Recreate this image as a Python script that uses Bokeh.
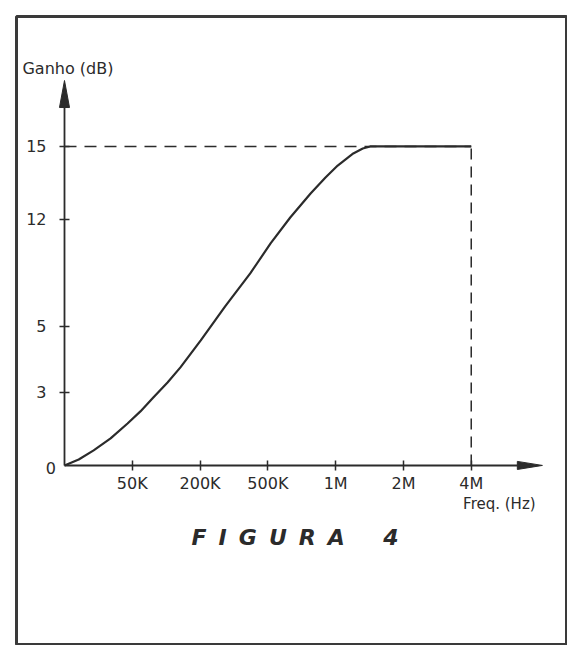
from bokeh.plotting import figure
from bokeh.models import LinearAxis, FixedTicker, Label, Range1d
from bokeh.embed import file_html
from bokeh.resources import INLINE

# Schematic axes: tick positions (drawing units) and their labels
x_tick_pos = [1, 2, 3, 4, 5, 6]
x_tick_labels = ["50K", "200K", "500K", "1M", "2M", "4M"]
y_tick_pos = [3.43, 6.54, 11.57, 15.0]
y_tick_labels = ["3", "5", "12", "15"]

# Gain curve (x in tick units, y in axis units)
curve_x = [0.0, 0.21, 0.43, 0.68, 0.93, 1.12, 1.31, 1.52, 1.71, 2.01, 2.37, 2.74,
           3.04, 3.33, 3.63, 3.85, 4.03, 4.26, 4.40, 4.51, 6.0]
curve_y = [0.0, 0.28, 0.71, 1.27, 1.97, 2.54, 3.20, 3.90, 4.61, 5.88, 7.48, 9.03,
           10.44, 11.66, 12.79, 13.54, 14.10, 14.67, 14.90, 15.0, 15.0]

INK = "#2b2b2b"
FONT = "DejaVu Sans"

p = figure(frame_width=551, frame_height=628,
           min_border_left=16, min_border_right=0, min_border_top=16, min_border_bottom=1,
           x_range=Range1d(-0.708, 7.42), y_range=Range1d(-8.42, 21.11),
           x_axis_type=None, y_axis_type=None,
           output_backend="svg", toolbar_location=None)
p.outline_line_color = "#3a3a3a"
p.outline_line_width = 3
p.background_fill_color = "white"
p.border_fill_color = "white"

x_axis_end = 6.68
y_axis_end = 16.83

xaxis = LinearAxis(fixed_location=0, bounds=(0, x_axis_end),
                   ticker=FixedTicker(ticks=x_tick_pos, minor_ticks=[]),
                   major_label_overrides={k: v for k, v in zip(x_tick_pos, x_tick_labels)})
yaxis = LinearAxis(fixed_location=0, bounds=(0, y_axis_end),
                   ticker=FixedTicker(ticks=y_tick_pos, minor_ticks=[]),
                   major_label_overrides={k: v for k, v in zip(y_tick_pos, y_tick_labels)})
for ax in (xaxis, yaxis):
    ax.axis_line_color = INK
    ax.axis_line_width = 1.8
    ax.major_tick_line_color = INK
    ax.major_tick_line_width = 1.5
    ax.major_tick_in = 5
    ax.major_tick_out = 5
    ax.major_label_text_font = FONT
    ax.major_label_text_font_size = "16px"
    ax.major_label_text_color = INK
xaxis.major_label_standoff = 4
yaxis.major_label_standoff = 13
p.add_layout(xaxis, "below")
p.add_layout(yaxis, "left")

# arrow heads at the axis ends
p.patch([x_axis_end, 7.05, x_axis_end], [0.19, 0.0, -0.19], color=INK)
p.patch([-0.074, 0.0, 0.074], [y_axis_end, 18.1, y_axis_end], color=INK)

# dashed guides to the 15 dB / 4M corner
p.line([0, x_tick_pos[-1]], [y_tick_pos[-1], y_tick_pos[-1]], line_color=INK,
       line_width=1.5, line_dash="12 8")
p.line([x_tick_pos[-1], x_tick_pos[-1]], [0, y_tick_pos[-1]], line_color=INK,
       line_width=1.5, line_dash="11 7")

p.line(curve_x, curve_y, line_color=INK, line_width=2.2, line_join="round")

p.add_layout(Label(x=-0.2, y=-0.1, text="0", text_align="center", text_baseline="middle",
                   text_font=FONT, text_font_size="16px", text_color=INK))
p.add_layout(Label(x=-0.62, y=18.66, text="Ganho (dB)", text_align="left", text_baseline="middle",
                   text_font=FONT, text_font_size="16px", text_color=INK))
p.add_layout(Label(x=5.88, y=-1.79, text="Freq. (Hz)", text_align="left", text_baseline="middle",
                   text_font=FONT, text_font_size="15px", text_color=INK))
NB = "\u00a0"
GAP = NB + "\u2009"
fig_title = GAP.join(["F", "I", "G", "U", "R", "A"]) + NB * 5 + "4"
p.add_layout(Label(x=3.4, y=-3.39, text=fig_title, text_align="center",
                   text_baseline="middle", text_font=FONT, text_font_size="22px",
                   text_font_style="bold italic", text_color=INK))

open("out.html", "w").write(file_html(p, INLINE))
